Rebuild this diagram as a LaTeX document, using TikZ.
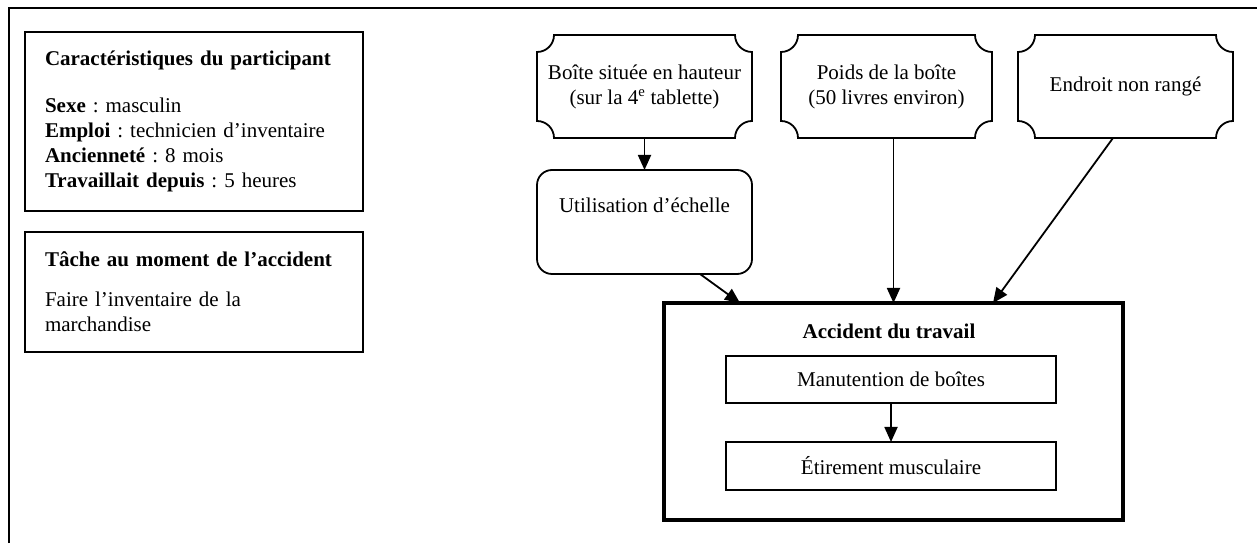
\documentclass[tikz,border=0pt]{standalone}
\usepackage{fontspec}
\setmainfont{Liberation Serif}
\usetikzlibrary{arrows.meta,calc}
\frenchspacing
\tikzset{
  every node/.style={font=\fontsize{21}{25}\selectfont, outer sep=0pt},
  infobox/.style={draw, line width=1.8pt, anchor=north west, minimum width=338pt,
    text width=298pt, align=left, inner xsep=20pt},
  plaque/.style={minimum height=103pt, align=center},
  roundbox/.style={draw, line width=1.8pt, rounded corners=15pt, minimum width=215pt,
    minimum height=104pt, align=center},
  mainbox/.style={draw, line width=3.2pt, minimum width=459pt, minimum height=217pt},
  stagebox/.style={draw, line width=1.8pt, minimum width=330pt, minimum height=47pt},
  flow/.style={line width=1.8pt, -{Triangle[length=15pt,width=13pt]}},
}
% Outline of a box with concave rounded corners, drawn around a named node
\newcommand\plaqueoutline[2]{%
  \draw[line width=1.8pt] ($(#1.north west)+(0,-#2)$) arc[start angle=270,end angle=360,radius=#2]
    -- ($(#1.north east)+(-#2,0)$) arc[start angle=180,end angle=270,radius=#2]
    -- ($(#1.south east)+(0,#2)$) arc[start angle=90,end angle=180,radius=#2]
    -- ($(#1.south west)+(#2,0)$) arc[start angle=0,end angle=90,radius=#2]
    -- cycle;}
\begin{document}
\begin{tikzpicture}[x=1pt,y=1pt]
  \useasboundingbox (0,0) rectangle (1257,543);
  % outer frame
  \draw[line width=2.2pt] (9,0) -- (9,535) -- (1257,535);

  % participant and task boxes
  \node[infobox, minimum height=179pt] (profil) at (25,511)
    {\textbf{Caractéristiques du participant}\\[22pt]
     \textbf{Sexe} : masculin\\
     \textbf{Emploi} : technicien d’inventaire\\
     \textbf{Ancienneté} : 8 mois\\
     \textbf{Travaillait depuis} : 5 heures};
  \node[infobox, minimum height=120pt] (tache) at (25,311)
    {\textbf{Tâche au moment de l’accident}\\[15pt]
     Faire l’inventaire de la\\
     marchandise};

  % contributing factors
  \node[plaque, minimum width=215pt] (hauteur) at (644.5,456.5)
    {Boîte située en hauteur\\(sur la 4\textsuperscript{e} tablette)};
  \node[plaque, minimum width=211pt] (poids) at (886.5,456.5)
    {Poids de la boîte\\(50 livres environ)};
  \node[plaque, minimum width=215pt] (endroit) at (1125.5,456.5)
    {Endroit non rangé};
  \plaqueoutline{hauteur}{17}
  \plaqueoutline{poids}{17}
  \plaqueoutline{endroit}{17}

  \node[roundbox] (echelle) at (644.5,321) {Utilisation d’échelle\\[8pt]\mbox{}};

  % accident
  \node[mainbox] (accident) at (893.5,131.5) {};
  \node[font=\fontsize{21}{25}\selectfont\bfseries] (titre) at (889,212) {Accident du travail};
  \node[stagebox] (manut) at (891,163.5) {Manutention de boîtes};
  \node[stagebox, minimum height=48pt] (etire) at (891,77) {Étirement musculaire};

  % connectors
  \draw[flow] (hauteur) -- (echelle);
  \draw[flow] ([xshift=55.5pt]echelle.south) -- ([xshift=-153.5pt]accident.north);
  \draw[flow] (accident.north |- poids.south) -- (accident.north);
  \draw[flow] ([xshift=-12.5pt]endroit.south) -- ([xshift=99.5pt]accident.north);
  \draw[flow] (manut) -- (etire);
\end{tikzpicture}
\end{document}
